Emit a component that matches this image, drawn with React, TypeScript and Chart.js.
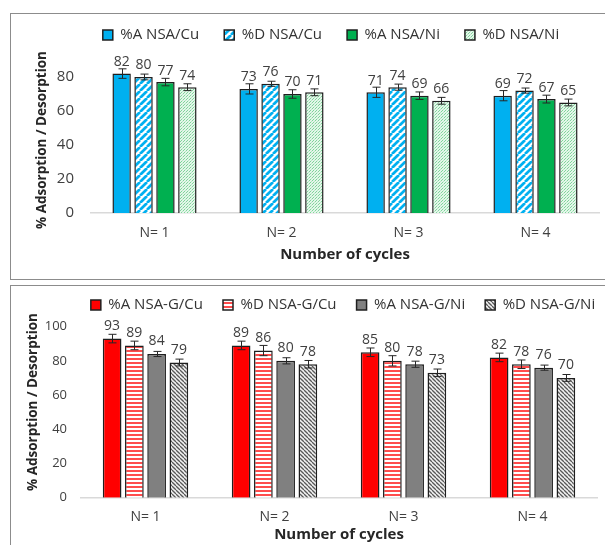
import React, { useEffect, useRef } from 'react';
import { Chart, registerables } from 'chart.js';

Chart.register(...registerables);

// ---------- data ----------
const categories = ['N= 1', 'N= 2', 'N= 3', 'N= 4'];

const nsaSeriesNames = ['%A NSA/Cu', '%D NSA/Cu', '%A NSA/Ni', '%D NSA/Ni'];
const aNsaCu = [82, 73, 71, 69];
const dNsaCu = [80, 76, 74, 72];
const aNsaNi = [77, 70, 69, 67];
const dNsaNi = [74, 71, 66, 65];
const errANsaCu = [2.8, 3, 3, 3];
const errDNsaCu = [1.7, 1.5, 1.8, 1.5];
const errANsaNi = [2.2, 2.5, 2.2, 2.3];
const errDNsaNi = [2, 2, 2, 2];

const nsagSeriesNames = ['%A NSA-G/Cu', '%D NSA-G/Cu', '%A NSA-G/Ni', '%D NSA-G/Ni'];
const aNsagCu = [93, 89, 85, 82];
const dNsagCu = [89, 86, 80, 78];
const aNsagNi = [84, 80, 78, 76];
const dNsagNi = [79, 78, 73, 70];
const errANsagCu = [2.5, 2.5, 2.5, 2.5];
const errDNsagCu = [2.5, 3, 3, 2.5];
const errANsagNi = [1.5, 1.8, 1.8, 1.5];
const errDNsagNi = [2, 2.2, 2.2, 2];

const yAxisTitle = '% Adsorption / Desorption';
const xAxisTitle = 'Number of cycles';

// ---------- styling helpers ----------
const FONT = "'Open Sans', 'DejaVu Sans', sans-serif";
const TEXT = '#404040';

function makePattern(kind: string): CanvasPattern {
  const c = document.createElement('canvas');
  const ctx = c.getContext('2d')!;
  if (kind === 'blueDiag') {
    const s = 7;
    c.width = s; c.height = s;
    ctx.fillStyle = '#ffffff'; ctx.fillRect(0, 0, s, s);
    ctx.strokeStyle = '#00B0F0'; ctx.lineWidth = 2.7;
    for (const o of [-s, 0, s]) { ctx.beginPath(); ctx.moveTo(o, s); ctx.lineTo(o + s, 0); ctx.stroke(); }
  } else if (kind === 'greenDots') {
    c.width = 3; c.height = 3;
    ctx.fillStyle = '#e4f6ea'; ctx.fillRect(0, 0, 3, 3);
    ctx.fillStyle = '#7fd59a'; ctx.fillRect(0, 0, 1, 1); ctx.fillRect(1, 2, 1, 1);
    ctx.fillStyle = '#b4e8c3'; ctx.fillRect(2, 1, 1, 1);
  } else if (kind === 'redHoriz') {
    c.width = 4; c.height = 4;
    ctx.fillStyle = '#ffffff'; ctx.fillRect(0, 0, 4, 4);
    ctx.fillStyle = '#ff4d4d'; ctx.fillRect(0, 0, 4, 2);
  } else {
    const s = 4;
    c.width = s; c.height = s;
    ctx.fillStyle = '#f2f2f2'; ctx.fillRect(0, 0, s, s);
    ctx.strokeStyle = '#595959'; ctx.lineWidth = 1.3;
    for (const o of [-s, 0, s]) { ctx.beginPath(); ctx.moveTo(o, 0); ctx.lineTo(o + s, s); ctx.stroke(); }
  }
  return ctx.createPattern(c, 'repeat')!;
}

function errorBarPlugin(errs: number[][]) {
  return {
    id: 'errorBars',
    afterDatasetsDraw(chart: any) {
      const ctx = chart.ctx;
      const y = chart.scales.y;
      ctx.save();
      ctx.strokeStyle = '#262626';
      ctx.lineWidth = 1;
      chart.data.datasets.forEach((ds: any, i: number) => {
        const meta = chart.getDatasetMeta(i);
        meta.data.forEach((el: any, j: number) => {
          const v = ds.data[j];
          const e = errs[i][j];
          const x = Math.round(el.x) + 0.5;
          const yt = y.getPixelForValue(v + e);
          const yb = y.getPixelForValue(v - e);
          ctx.beginPath();
          ctx.moveTo(x, yt); ctx.lineTo(x, yb);
          ctx.moveTo(x - 4, yt); ctx.lineTo(x + 4, yt);
          ctx.moveTo(x - 4, yb); ctx.lineTo(x + 4, yb);
          ctx.stroke();
        });
      });
      ctx.restore();
    },
  };
}

function dataLabelPlugin(offset: number, size: number) {
  return {
    id: 'valueLabels',
    afterDatasetsDraw(chart: any) {
      const ctx = chart.ctx;
      ctx.save();
      ctx.fillStyle = TEXT;
      ctx.font = `${size}px ${FONT}`;
      ctx.textAlign = 'center';
      ctx.textBaseline = 'middle';
      chart.data.datasets.forEach((ds: any, i: number) => {
        chart.getDatasetMeta(i).data.forEach((el: any, j: number) => {
          ctx.fillText(String(ds.data[j]), el.x, el.y - offset);
        });
      });
      ctx.restore();
    },
  };
}

function yTitlePlugin(x: number, yc: number, size: number) {
  return {
    id: 'yTitle',
    afterDraw(chart: any) {
      const ctx = chart.ctx;
      ctx.save();
      ctx.translate(x, yc);
      ctx.rotate(-Math.PI / 2);
      ctx.fillStyle = '#262626';
      ctx.font = `bold ${size}px ${FONT}`;
      ctx.textAlign = 'center';
      ctx.textBaseline = 'middle';
      ctx.fillText(yAxisTitle, 0, 0);
      ctx.restore();
    },
  };
}

type Geo = {
  padLeft: number; padTop: number; padBottom: number;
  yWidth: number; rightWidth: number; xHeight: number;
  yMax: number; yTickPad: number; yTickSize: number;
  xTickPad: number; xTitlePad: number; legendPad: number;
  labelOffset: number; yTitleX: number; yTitleY: number;
};

function makeConfig(names: string[], series: number[][], colors: any[], errs: number[][], g: Geo): any {
  return {
    type: 'bar',
    data: {
      labels: categories,
      datasets: series.map((d, i) => ({
        label: names[i],
        data: d,
        backgroundColor: colors[i],
        borderColor: '#1f1f1f',
        borderWidth: 1.5,
        categoryPercentage: 0.69,
        barPercentage: 0.84,
      })),
    },
    options: {
      animation: false,
      responsive: false,
      maintainAspectRatio: false,
      layout: { padding: { left: g.padLeft, right: 0, top: g.padTop, bottom: g.padBottom } },
      plugins: {
        legend: {
          position: 'top',
          labels: {
            boxWidth: 10, boxHeight: 10, padding: g.legendPad, color: '#333333',
            font: { family: FONT, size: 15 },
          },
        },
        tooltip: { enabled: false },
      },
      scales: {
        x: {
          grid: { display: false, drawTicks: false },
          border: { display: true, color: '#d9d9d9', width: 1.5 },
          ticks: { padding: g.xTickPad, color: TEXT, font: { family: FONT, size: 14 } },
          title: {
            display: true, text: xAxisTitle, color: '#262626',
            font: { family: FONT, size: 15, weight: 'bold' }, padding: { top: 0, bottom: g.xTitlePad },
          },
          afterFit: (s: any) => { s.height = g.xHeight; },
        },
        y: {
          min: 0, max: g.yMax, bounds: 'data',
          grid: { display: false, drawTicks: false },
          border: { display: false },
          ticks: { stepSize: 20, includeBounds: false, padding: g.yTickPad, color: TEXT, font: { family: FONT, size: g.yTickSize } },
          afterFit: (s: any) => { s.width = g.yWidth; },
        },
        yRight: {
          type: 'linear', position: 'right',
          grid: { display: false, drawTicks: false }, border: { display: false },
          ticks: { display: false },
          afterFit: (s: any) => { s.width = g.rightWidth; },
        },
      },
    },
    plugins: [errorBarPlugin(errs), dataLabelPlugin(g.labelOffset, 14), yTitlePlugin(g.yTitleX, g.yTitleY, 13.5)],
  };
}

export default function App() {
  const topRef = useRef<HTMLCanvasElement>(null);
  const botRef = useRef<HTMLCanvasElement>(null);

  useEffect(() => {
    const topColors = ['#00B0F0', makePattern('blueDiag'), '#00B050', makePattern('greenDots')];
    const botColors = ['#FF0000', makePattern('redHoriz'), '#808080', makePattern('grayDiag')];

    const c1 = new Chart(topRef.current!, makeConfig(
      nsaSeriesNames, [aNsaCu, dNsaCu, aNsaNi, dNsaNi], topColors,
      [errANsaCu, errDNsaCu, errANsaNi, errDNsaNi],
      {
        padLeft: 57, padTop: 2.5, padBottom: 10, yWidth: 34, rightWidth: 6, xHeight: 57,
        yMax: 94.4, yTickPad: 17, yTickSize: 15, xTickPad: 12, xTitlePad: 6, legendPad: 25,
        labelOffset: 11.5, yTitleX: 42, yTitleY: 140,
      },
    ));
    const c2 = new Chart(botRef.current!, makeConfig(
      nsagSeriesNames, [aNsagCu, dNsagCu, aNsagNi, dNsagNi], botColors,
      [errANsagCu, errDNsagCu, errANsagNi, errDNsagNi],
      {
        padLeft: 44, padTop: 7.5, padBottom: 0, yWidth: 37, rightWidth: 45, xHeight: 47.3,
        yMax: 102.4, yTickPad: 14, yTickSize: 13, xTickPad: 11, xTitlePad: 1, legendPad: 20,
        labelOffset: 12.5, yTitleX: 33, yTitleY: 132,
      },
    ));
    return () => { c1.destroy(); c2.destroy(); };
  }, []);

  return (
    <div style={{ position: 'absolute', left: 0, top: 0, width: 605, height: 545, overflow: 'hidden', background: '#ffffff' }}>
      <div style={{ position: 'absolute', left: 10, top: 13, width: 620, height: 265, border: '1.5px solid #8c8c8c' }} />
      <div style={{ position: 'absolute', left: 10, top: 285, width: 620, height: 300, border: '1.5px solid #8c8c8c' }} />
      <canvas ref={topRef} width={605} height={280} style={{ position: 'absolute', left: 0, top: 0, width: 605, height: 280 }} />
      <canvas ref={botRef} width={642} height={275} style={{ position: 'absolute', left: 0, top: 270, width: 642, height: 275 }} />
    </div>
  );
}
